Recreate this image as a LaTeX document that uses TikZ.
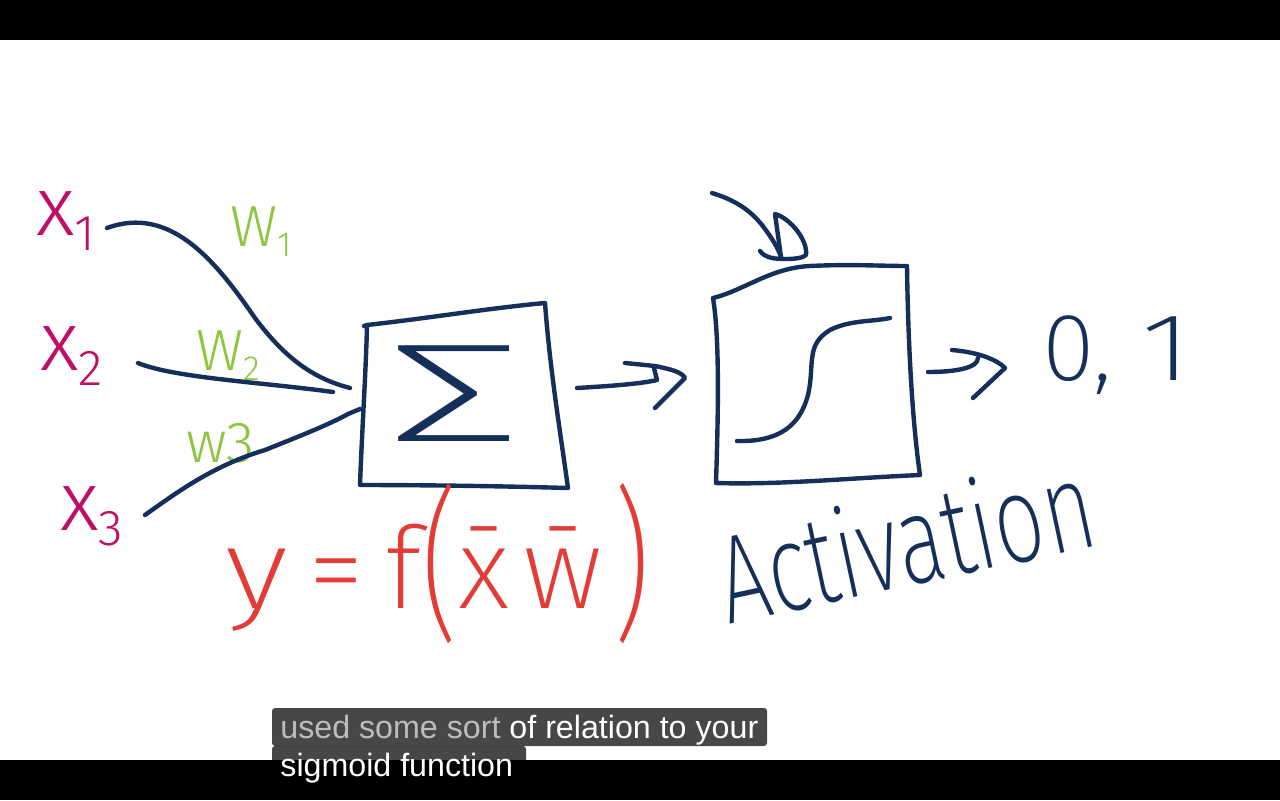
\documentclass[tikz,border=0pt]{standalone}
\usepackage{fontspec}
\usepackage{graphicx}
\newfontfamily\hand{Fira Sans Light}
\newfontfamily\thinhand{Fira Sans ExtraLight}
\newfontfamily\capfont{Liberation Sans}
\definecolor{navy}{HTML}{14305A}
\definecolor{xmag}{HTML}{BE0F64}
\definecolor{wgreen}{HTML}{8DC63F}
\definecolor{fred}{HTML}{E33B36}
\definecolor{capgrey}{HTML}{BDBDBD}
\newcommand\lsub[1]{\raisebox{-0.18em}{\scalebox{0.6}{#1}}}
\begin{document}
\begin{tikzpicture}[x=0.5pt,y=-0.5pt,
  ink/.style={draw=navy,line width=2.2pt,line cap=round,line join=round},
  xlab/.style={text=xmag,font=\hand\fontsize{42}{42}\selectfont,inner sep=0pt,anchor=base west},
  wlab/.style={text=wgreen,font=\hand\fontsize{29}{29}\selectfont,inner sep=0pt,anchor=base west},
  caption/.style={text=white,font=\capfont\fontsize{16.1}{16.1}\selectfont,inner sep=0pt,anchor=base west},
  capbox/.style={fill=black,fill opacity=0.72,rounded corners=1.5pt}]
\useasboundingbox (0,0) rectangle (1280,800);
\fill[white] (0,0) rectangle (1280,800);
\fill[black] (0,0) rectangle (1280,40);
\fill[black] (0,760) rectangle (1280,800);

% input labels
\node[xlab] (x1) at (36,235) {x\lsub{1}};
\node[xlab] (x2) at (40,370) {x\lsub{2}};
\node[xlab] (x3) at (60,530) {x\lsub{3}};
% weight labels
\node[wlab] (w1) at (230,246) {W\lsub{1}};
\node[wlab] (w2) at (196,370) {W\lsub{2}};
\node[wlab] (w3) at (186,462) {w3};

% connector end points
\coordinate (c1s) at (107,228);
\coordinate (c2s) at (138,363);
\coordinate (c3s) at (145,515);
\coordinate (c1e) at (350,388);
\coordinate (c2e) at (333,392);
\coordinate (c3e) at (360,409);

\draw[ink] (c1s) .. controls (170,205) and (215,260) .. (255,318) .. controls (290,365) and (320,380) .. (c1e);
\draw[ink] (c2s) .. controls (175,378) and (260,382) .. (c2e);
\draw[ink] (c3s) .. controls (180,490) and (215,465) .. (265,450) .. controls (305,434) and (330,424) .. (348,414) -- (c3e);

% summation box
\coordinate (sTL) at (367,325);
\coordinate (sTR) at (545,303);
\coordinate (sBR) at (568,488);
\coordinate (sBL) at (360,485);
\draw[ink] (364,326) -- (sTL) .. controls (430,318) and (490,308) .. (sTR)
  .. controls (550,370) and (560,430) .. (sBR)
  .. controls (500,486) and (420,485) .. (sBL)
  .. controls (362,430) and (366,370) .. (sTL);
\node[text=navy,font=\thinhand\fontsize{70}{70}\selectfont,inner sep=0pt] (sigma) at (454,394) {\scalebox{2.0}[1]{Σ}};

% arrow 1
\coordinate (a1s) at (577,388);
\coordinate (a1m) at (657,380);
\draw[ink] (a1s) .. controls (610,386) and (640,384) .. (a1m) -- (654,368);
\draw[ink] (625,363) -- (655,366) .. controls (670,369) and (682,372) .. (685,378) -- (655,408);

% activation box
\coordinate (aTL) at (713,298);
\coordinate (aTR) at (907,266);
\coordinate (aBR) at (920,475);
\coordinate (aBL) at (716,483);
\draw[ink] (aTL) .. controls (745,290) and (770,268) .. (810,266) .. controls (850,264) and (880,266) .. (aTR)
  .. controls (908,340) and (912,420) .. (aBR)
  .. controls (850,478) and (780,485) .. (aBL)
  .. controls (718,420) and (720,340) .. (aTL);
% sigmoid curve
\draw[ink] (737,441) .. controls (780,442) and (800,425) .. (808,395) .. controls (815,365) and (805,345) .. (830,330) .. controls (850,320) and (870,322) .. (890,318);

% top arrow
\coordinate (tA) at (712,193);
\coordinate (tB) at (781,257);
\draw[ink] (tA) .. controls (735,200) and (750,210) .. (762,225) .. controls (772,238) and (778,248) .. (tB);
\draw[ink] (760,251) .. controls (765,258) and (775,259) .. (785,259) .. controls (795,259) and (803,258) .. (806,255)
  .. controls (808,240) and (790,218) .. (775,214) -- (tB);

% arrow 2
\coordinate (a2s) at (928,372);
\coordinate (a2m) at (978,358);
\draw[ink] (a2s) .. controls (955,372) and (978,368) .. (a2m);
\draw[ink] (952,350) .. controls (975,352) and (995,358) .. (1005,368) -- (973,398);

% output
\node[text=navy,font=\thinhand\fontsize{48}{48}\selectfont,inner sep=0pt,anchor=base west] (out) at (1042,380) {0,\hspace{0.3em}\scalebox{1.3}[1]{1}};

% labels below
\node[text=fred,font=\thinhand\fontsize{57}{57}\selectfont,inner sep=0pt] (eq) at (438,564)
  {\scalebox{1.2}[1]{y}\hspace{0.18em}=\hspace{0.18em}f\raisebox{-0.12em}{\scalebox{1}[1.45]{(}}\={x}\hspace{0.12em}\={w}\hspace{0.1em}\raisebox{-0.12em}{\scalebox{1}[1.45]{)}}};
\node[text=navy,font=\thinhand\fontsize{52}{52}\selectfont,inner sep=0pt,rotate=12] (act) at (905,540) {\scalebox{0.84}[1.2]{Activation}};

% captions
\fill[capbox] (272,708) rectangle (767,746);
\fill[capbox] (272,746) rectangle (526,782);
\node[caption] (cap1) at (280,738) {{\color{capgrey}used some sort} of relation to your};
\node[caption] (cap2) at (280,776) {sigmoid function};
\end{tikzpicture}
\end{document}
